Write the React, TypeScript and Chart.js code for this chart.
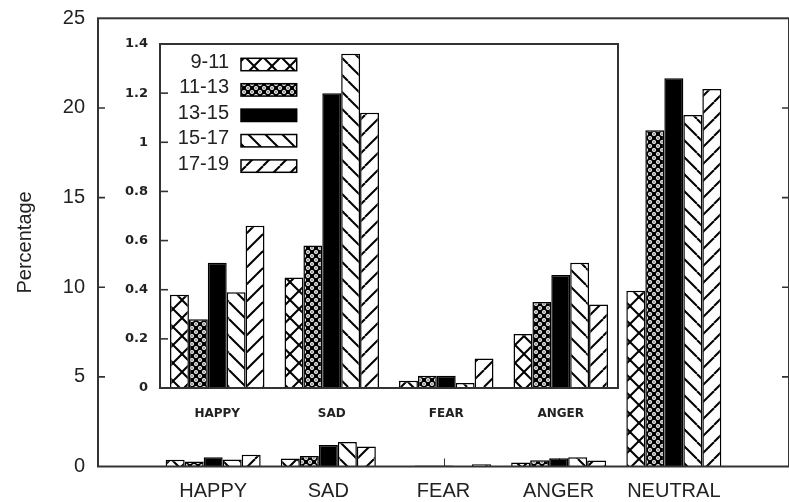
import React, { useEffect, useRef } from 'react';
import { Chart, registerables } from 'chart.js';

Chart.register(...registerables);

// ---- data ----
const outerCategories = ['', 'HAPPY', 'SAD', 'FEAR', 'ANGER', 'NEUTRAL', ''];
const insetCategories = ['HAPPY', 'SAD', 'FEAR', 'ANGER'];
const seriesLabels = ['9-11', '11-13', '13-15', '15-17', '17-19'];
// values per age group: HAPPY, SAD, FEAR, ANGER, NEUTRAL
const age9to11 = [0.38, 0.45, 0.03, 0.22, 9.8];
const age11to13 = [0.28, 0.58, 0.05, 0.35, 18.75];
const age13to15 = [0.51, 1.2, 0.05, 0.46, 21.65];
const age15to17 = [0.39, 1.36, 0.02, 0.51, 19.6];
const age17to19 = [0.66, 1.12, 0.12, 0.34, 21.05];
const outerYTicks = [0, 5, 10, 15, 20, 25];
const insetYTicks = [0, 0.2, 0.4, 0.6, 0.8, 1, 1.2, 1.4];
const patternKinds = ['cross', 'dots', 'solid', 'back', 'slash'];

const ARIAL = "'Liberation Sans', Arial, sans-serif";
const DEJAVU = "'DejaVu Sans', sans-serif";
const TEXT = '#222';
const AXIS = '#333';

function makePattern(kind: string): any {
  if (kind === 'solid') return '#000';
  const c = document.createElement('canvas');
  const T = kind === 'dots' ? 8 : kind === 'cross' ? 18 : 17;
  c.width = T;
  c.height = T;
  const g = c.getContext('2d')!;
  if (kind === 'dots') {
    g.fillStyle = '#000';
    g.fillRect(0, 0, T, T);
    g.fillStyle = '#fff';
    for (const [cx, cy] of [[2, 2], [6, 6]]) {
      g.beginPath();
      g.arc(cx, cy, 2.0, 0, Math.PI * 2);
      g.fill();
    }
    g.fillStyle = '#000';
    for (const [cx, cy] of [[2, 2], [6, 6]]) {
      g.beginPath();
      g.arc(cx, cy, 0.7, 0, Math.PI * 2);
      g.fill();
    }
  } else {
    g.fillStyle = '#fff';
    g.fillRect(0, 0, T, T);
    g.strokeStyle = '#000';
    g.lineWidth = 2;
    const dirs = kind === 'cross' ? ['b', 's'] : kind === 'back' ? ['b'] : ['s'];
    for (const d of dirs) {
      for (const k of [-T, 0, T]) {
        g.beginPath();
        if (d === 'b') {
          g.moveTo(k, 0);
          g.lineTo(k + T, T);
        } else {
          g.moveTo(k, T);
          g.lineTo(k + T, 0);
        }
        g.stroke();
      }
    }
  }
  return g.createPattern(c, 'repeat');
}

const outerFrame = {
  id: 'outerFrame',
  beforeDatasetsDraw(chart: any) {
    const { ctx, chartArea: a, scales } = chart;
    ctx.save();
    ctx.strokeStyle = AXIS;
    ctx.lineWidth = 1;
    for (let i = 1; i <= 5; i++) {
      const px = Math.round(scales.x.getPixelForValue(i)) + 0.5;
      ctx.beginPath();
      ctx.moveTo(px, a.bottom);
      ctx.lineTo(px, a.bottom - 8);
      ctx.stroke();
    }
    ctx.restore();
  },
  afterDatasetsDraw(chart: any) {
    const { ctx, chartArea: a, scales } = chart;
    ctx.save();
    ctx.strokeStyle = AXIS;
    ctx.lineWidth = 2;
    ctx.strokeRect(a.left, a.top, a.right - a.left, a.bottom - a.top);
    ctx.lineWidth = 1.6;
    scales.y.ticks.forEach((t: any) => {
      if (t.value <= 0 || t.value >= 25) return;
      const py = scales.y.getPixelForValue(t.value);
      ctx.beginPath();
      ctx.moveTo(a.left, py);
      ctx.lineTo(a.left + 7, py);
      ctx.moveTo(a.right, py);
      ctx.lineTo(a.right - 7, py);
      ctx.stroke();
    });
    ctx.restore();
  },
};

const insetFrame = {
  id: 'insetFrame',
  afterDatasetsDraw(chart: any) {
    const { ctx, chartArea: a, scales } = chart;
    ctx.save();
    ctx.strokeStyle = AXIS;
    ctx.lineWidth = 2;
    ctx.strokeRect(a.left, a.top, a.right - a.left, a.bottom - a.top);
    ctx.lineWidth = 1.6;
    scales.y.ticks.forEach((t: any) => {
      if (t.value <= 0 || t.value >= 1.4) return;
      const py = scales.y.getPixelForValue(t.value);
      ctx.beginPath();
      ctx.moveTo(a.left, py);
      ctx.lineTo(a.left + 8, py);
      ctx.stroke();
    });
    ctx.restore();
  },
  afterDraw(chart: any) {
    const { ctx, chartArea: a } = chart;
    ctx.save();
    chart.data.datasets.forEach((ds: any, i: number) => {
      const cy = a.top + 20.5 + i * 25.4;
      ctx.fillStyle = TEXT;
      ctx.font = `20px ${ARIAL}`;
      ctx.textAlign = 'right';
      ctx.textBaseline = 'alphabetic';
      ctx.fillText(ds.label, a.left + 69, cy + 3.5);
      ctx.fillStyle = ds.backgroundColor;
      ctx.fillRect(a.left + 81, cy - 6.2, 55.7, 12.4);
      ctx.strokeStyle = '#000';
      ctx.lineWidth = 1.5;
      ctx.strokeRect(a.left + 81, cy - 6.2, 55.7, 12.4);
    });
    ctx.restore();
  },
};

export default function App() {
  const outerRef = useRef<HTMLCanvasElement>(null);
  const insetRef = useRef<HTMLCanvasElement>(null);

  useEffect(() => {
    const series = [age9to11, age11to13, age13to15, age15to17, age17to19];
    const patterns = patternKinds.map(makePattern);

    const outer = new Chart(outerRef.current!, {
      type: 'bar',
      data: {
        labels: outerCategories,
        datasets: seriesLabels.map((label, i) => ({
          label,
          data: [null, ...series[i], null],
          backgroundColor: patterns[i],
          borderColor: '#000',
          borderWidth: 1.5,
          categoryPercentage: 0.825,
          barPercentage: 1,
        })),
      },
      options: {
        responsive: false,
        animation: false,
        devicePixelRatio: 1,
        layout: { padding: { top: 18.3, left: 0, right: -3, bottom: 0 } },
        plugins: { legend: { display: false }, tooltip: { enabled: false } },
        scales: {
          x: {
            type: 'category',
            offset: false,
            grid: { display: false, drawTicks: false },
            border: { display: false },
            ticks: { font: { family: ARIAL, size: 20 }, color: TEXT, padding: 13, autoSkip: false, maxRotation: 0 },
            afterFit(s: any) {
              s.height = 35.5;
              s.paddingLeft = 0;
              s.paddingRight = 0;
            },
          },
          y: {
            min: 0,
            max: 25,
            grid: { display: false, drawTicks: false },
            border: { display: false },
            ticks: { font: { family: ARIAL, size: 20 }, color: TEXT, padding: 13 },
            afterBuildTicks(s: any) {
              s.ticks = outerYTicks.map((v) => ({ value: v }));
            },
            title: {
              display: true,
              text: 'Percentage',
              font: { family: ARIAL, size: 20 },
              color: TEXT,
              padding: { top: 13.5, bottom: 0 },
            },
            afterFit(s: any) {
              s.width = 98;
              s.paddingTop = 0;
              s.paddingBottom = 0;
            },
          },
        },
      },
      plugins: [outerFrame],
    } as any);

    const inset = new Chart(insetRef.current!, {
      type: 'bar',
      data: {
        labels: insetCategories,
        datasets: seriesLabels.map((label, i) => ({
          label,
          data: series[i].slice(0, 4),
          backgroundColor: patterns[i],
          borderColor: '#000',
          borderWidth: 1.5,
          categoryPercentage: 0.825,
          barPercentage: 1,
        })),
      },
      options: {
        responsive: false,
        animation: false,
        devicePixelRatio: 1,
        layout: { padding: { top: 14, left: 0, right: 12, bottom: 0 } },
        plugins: { legend: { display: false }, tooltip: { enabled: false } },
        scales: {
          x: {
            type: 'category',
            grid: { display: false, drawTicks: false },
            border: { display: false },
            ticks: { font: { family: DEJAVU, size: 12, weight: 'bold' }, color: TEXT, padding: 19, autoSkip: false, maxRotation: 0 },
            afterFit(s: any) {
              s.height = 42;
              s.paddingLeft = 0;
              s.paddingRight = 0;
            },
          },
          y: {
            min: 0,
            max: 1.4,
            grid: { display: false, drawTicks: false },
            border: { display: false },
            ticks: {
              font: { family: DEJAVU, size: 13, weight: 'bold' },
              color: TEXT,
              padding: 12,
              callback: (v: any) => String(v),
            },
            afterBuildTicks(s: any) {
              s.ticks = insetYTicks.map((v) => ({ value: v }));
            },
            afterFit(s: any) {
              s.width = 50;
              s.paddingTop = 0;
              s.paddingBottom = 0;
            },
          },
        },
      },
      plugins: [insetFrame],
    } as any);

    return () => {
      outer.destroy();
      inset.destroy();
    };
  }, []);

  return (
    <div style={{ position: 'absolute', left: 0, top: 0, width: 789, height: 502, background: '#fff', overflow: 'hidden' }}>
      <canvas ref={outerRef} width={789} height={502} style={{ position: 'absolute', left: 0, top: 0 }} />
      <canvas ref={insetRef} width={520} height={400} style={{ position: 'absolute', left: 110, top: 30 }} />
    </div>
  );
}
